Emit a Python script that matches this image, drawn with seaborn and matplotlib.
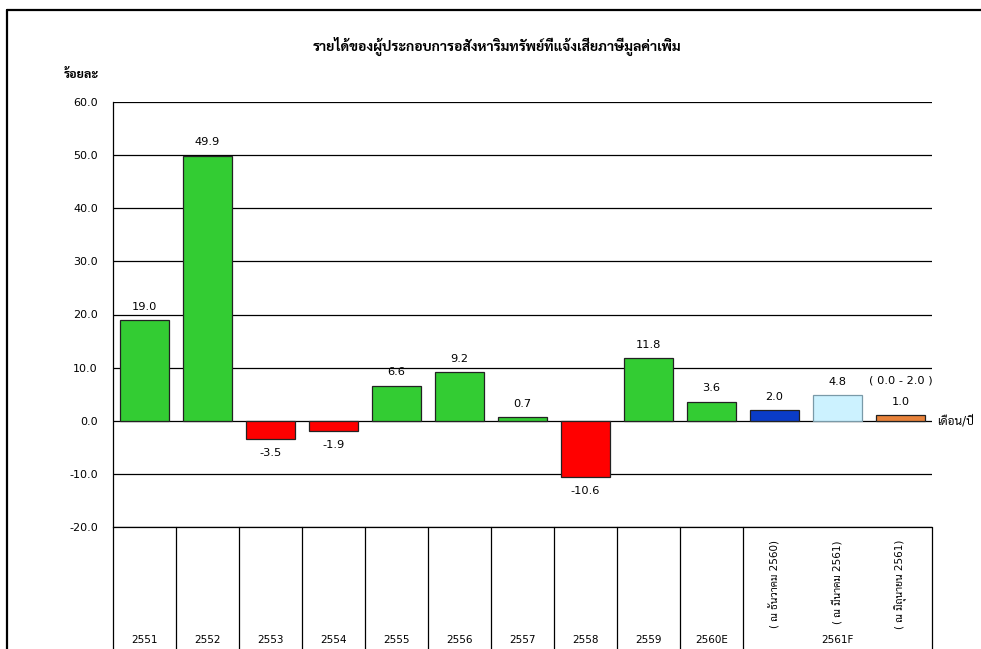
import matplotlib
matplotlib.use("Agg")
import matplotlib.pyplot as plt
import matplotlib.transforms as mtransforms
from matplotlib.lines import Line2D
from matplotlib import font_manager
import seaborn as sns

# ข้อมูล (ร้อยละ)
years = ['2551', '2552', '2553', '2554', '2555', '2556', '2557', '2558', '2559', '2560E']
forecast_year = '2561F'
forecast_labels = ['( ณ ธันวาคม 2560)', '( ณ มีนาคม 2561)', '( ณ มิถุนายน 2561)']
bar_ids = years + forecast_labels
values = [19.0, 49.9, -3.5, -1.9, 6.6, 9.2, 0.7, -10.6, 11.8, 3.6, 2.0, 4.8, 1.0]
bar_colors = ['#33CC33', '#33CC33', '#FF0000', '#FF0000', '#33CC33', '#33CC33', '#33CC33',
              '#FF0000', '#33CC33', '#33CC33', '#0A3CC8', '#CCF2FF', '#E8823A']
range_text = '( 0.0 - 2.0 )'
title = 'รายได้ของผู้ประกอบการอสังหาริมทรัพย์ที่แจ้งเสียภาษีมูลค่าเพิ่ม'
ylabel = 'ร้อยละ'
xunit = 'เดือน/ปี'
yticks = [-20, -10, 0, 10, 20, 30, 40, 50, 60]

# หา font ไทยที่มีตัวหนา (หัวกลม ใกล้ Tahoma)
weights = {}
for f in font_manager.fontManager.ttflist:
    w = f.weight if isinstance(f.weight, int) else 400
    weights.setdefault(f.name, set()).add(w)
thai_font = None
for cand in ['Tahoma', 'Noto Sans Thai Looped', 'Sarabun', 'Loma', 'Garuda', 'Noto Sans Thai', 'Athiti']:
    if cand in weights and max(weights[cand]) >= 700:
        thai_font = cand
        break
fams = ['DejaVu Sans'] + ([thai_font] if thai_font else [])

sns.set_style('white')
plt.rcParams['font.family'] = fams
plt.rcParams['font.size'] = 8
plt.rcParams['text.color'] = 'black'
plt.rcParams['ytick.color'] = 'black'

fig = plt.figure(figsize=(9.81, 6.49), dpi=100)
ax = fig.add_axes([113 / 981, 1 - 527 / 649, 819 / 981, 425 / 649])

sns.barplot(x=bar_ids, y=values, hue=bar_ids, palette=bar_colors, order=bar_ids,
            hue_order=bar_ids, legend=False, width=0.78, edgecolor='#222222',
            linewidth=0.9, saturation=1, ax=ax)
ax.patches[11].set_edgecolor('#7a9aa8')

ax.set_xlim(-0.5, 12.5)
ax.set_ylim(-20, 60)
ax.set_yticks(yticks)
ax.set_yticklabels(['%.1f' % v for v in yticks])
ax.yaxis.grid(True, color='black', linewidth=0.9)
ax.axhline(-20, color='black', linewidth=0.9, clip_on=False)
ax.set_axisbelow(True)
ax.set_xticks([])
ax.set_xlabel('')
ax.set_ylabel('')
for s in ['top', 'right', 'bottom']:
    ax.spines[s].set_visible(False)
ax.spines['left'].set_color('black')
ax.spines['left'].set_linewidth(0.9)
ax.tick_params(axis='y', direction='out', length=4, width=0.9, color='black',
               labelcolor='black', pad=7, labelsize=8)

# ป้ายค่าบนแท่ง
for i, v in enumerate(values):
    off = 9.5 if v >= 0 else -10
    ax.annotate('%.1f' % v, (i, v), xytext=(0, off), textcoords='offset points',
                ha='center', va='center', fontsize=8.2)
ax.annotate(range_text, (12, values[12]), xytext=(0, 25), textcoords='offset points',
            ha='center', va='center', fontsize=8.2)

ax.text(1.006, 0, xunit, transform=mtransforms.blended_transform_factory(ax.transAxes, ax.transData),
        ha='left', va='center', fontsize=8.5)

# ตารางหมวดหมู่ด้านล่าง
tr = mtransforms.blended_transform_factory(ax.transData, fig.transFigure)
y_top = 1 - 527 / 649
for xl in [-0.5, 0.5, 1.5, 2.5, 3.5, 4.5, 5.5, 6.5, 7.5, 8.5, 9.5, 12.5]:
    ax.add_line(Line2D([xl, xl], [0, y_top], transform=tr, color='black', linewidth=0.9, clip_on=False))
for i, yr in enumerate(years):
    ax.text(i, 1 - 640 / 649, yr, transform=tr, ha='center', va='center', fontsize=7.5)
for j, lab in enumerate(forecast_labels):
    ax.text(len(years) + j, 1 - 540 / 649, lab, transform=tr, rotation=90,
            ha='center', va='top', fontsize=7.5)
ax.text(len(years) + 1, 1 - 640 / 649, forecast_year, transform=tr, ha='center', va='center', fontsize=7.5)

fig.text(497 / 981, 1 - 46 / 649, title, ha='center', va='center', fontsize=10.1, fontweight='bold')
fig.text(81 / 981, 1 - 75 / 649, ylabel, ha='center', va='center', fontsize=9, fontweight='bold')

# กรอบภาพ
fig.add_artist(Line2D([7 / 981, 1.0], [1 - 10 / 649, 1 - 10 / 649], transform=fig.transFigure, color='black', linewidth=1.6))
fig.add_artist(Line2D([7 / 981, 7 / 981], [0, 1 - 10 / 649], transform=fig.transFigure, color='black', linewidth=1.6))

fig.savefig('out.png', dpi=100)
